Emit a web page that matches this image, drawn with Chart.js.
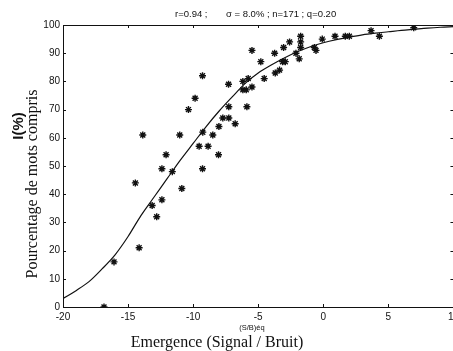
<!DOCTYPE html>
<html>
<head>
<meta charset="utf-8">
<script src="https://cdn.jsdelivr.net/npm/chart.js@4/dist/chart.umd.min.js"></script>
<style>
  html, body { margin: 0; padding: 0; background: #fff; overflow: hidden; }
  #wrap { width: 463px; height: 351px; }
</style>
</head>
<body>
<div id="wrap"><canvas id="c" width="463" height="351"></canvas></div>
<script>
// measured points: S/B (dB) and % of words understood
const snrX = [-16.85, -16.08, -14.44, -14.15, -13.87, -13.15, -12.8, -12.4, -12.4, -12.08,
  -11.6, -11.03, -10.87, -10.36, -9.85, -9.28, -9.54, -9.26, -9.28, -8.85,
  -8.49, -8.02, -8.05, -7.28, -7.26, -7.72, -7.26, -6.77, -5.87, -6.18,
  -5.77, -6.18, -5.92, -5.48, -5.48, -4.8, -4.54, -3.74, -3.69, -3.36,
  -3.13, -2.92, -3.05, -2.59, -2.1, -1.85, -1.74, -1.74, -1.74, -0.69,
  -0.56, -0.08, 0.9, 1.69, 2.0, 3.67, 4.31, 6.95];
const pctY = [0, 16, 44, 21, 61, 36, 32, 38, 49, 54,
  48, 61, 42, 70, 74, 82, 57, 62, 49, 57,
  61, 64, 54, 79, 71, 67, 67, 65, 71, 80,
  81, 77, 77, 78, 91, 87, 81, 90, 83, 84,
  87, 87, 92, 94, 90, 88, 96, 94, 92, 92,
  91, 95, 96, 96, 96, 98, 96, 99];

// fitted curve
const curveX = [-20, -19, -18, -17, -16, -15, -14, -13, -12, -11, -10, -9, -8, -7, -6, -5,
  -4, -3, -2, -1, 0, 1, 2, 3, 4, 5, 6, 7, 8, 9, 10];
const curveY = [3, 5.8, 9, 13.5, 18.5, 25, 32.5, 39, 45.5, 52, 58, 64, 69.5, 74.5, 79.3, 83,
  85.8, 88.3, 90.5, 92.3, 93.7, 94.8, 95.7, 96.5, 97.1, 97.6, 98.1, 98.5, 98.9, 99.2, 99.4];

const xTicks = [-20, -15, -10, -5, 0, 5, 10];
const yTicks = [0, 10, 20, 30, 40, 50, 60, 70, 80, 90, 100];

const INK = '#111';
const SANS = "'Liberation Sans', Arial, sans-serif";
const SERIF = "'Liberation Serif', 'Times New Roman', serif";

//frame, inward ticks and the free-floating labels
const decor = {
  id: 'decor',
  afterDraw(chart) {
    const { ctx, chartArea: a, scales } = chart;
    ctx.save();
    ctx.strokeStyle = INK;
    ctx.lineWidth = 1;
    ctx.strokeRect(a.left + 0.5, a.top + 0.5, a.right - a.left, a.bottom - a.top);
    ctx.beginPath();
    xTicks.forEach(v => {
      const x = Math.round(scales.x.getPixelForValue(v)) + 0.5;
      ctx.moveTo(x, a.bottom); ctx.lineTo(x, a.bottom - 3);
      ctx.moveTo(x, a.top); ctx.lineTo(x, a.top + 3);
    });
    yTicks.forEach(v => {
      const y = Math.round(scales.y.getPixelForValue(v)) + 0.5;
      ctx.moveTo(a.left, y); ctx.lineTo(a.left + 3, y);
      ctx.moveTo(a.right, y); ctx.lineTo(a.right - 3, y);
    });
    ctx.stroke();

    ctx.fillStyle = INK;
    ctx.textBaseline = 'middle';
    ctx.textAlign = 'left';
    ctx.font = `9.5px ${SANS}`;
    ctx.fillText('r=0.94 ;', 175, 14);
    ctx.fillText('\u03c3 = 8.0% ; n=171 ; q=0.20', 226, 14);

    ctx.textAlign = 'center';
    ctx.font = `7.5px ${SANS}`;
    ctx.fillText('(S/B)éq', 252, 328);
    ctx.font = `16px ${SERIF}`;
    ctx.fillText('Emergence (Signal / Bruit)', 217, 343);

    ctx.save();
    ctx.translate(33, 184);
    ctx.rotate(-Math.PI / 2);
    ctx.fillText('Pourcentage de mots compris', 0, 0);
    ctx.restore();

    ctx.save();
    ctx.translate(19, 126);
    ctx.rotate(-Math.PI / 2);
    ctx.font = `bold 15px ${SANS}`;
    ctx.fillText('I(%)', 0, 0);
    ctx.restore();
    ctx.restore();
  }
};

new Chart(document.getElementById('c'), {
  type: 'scatter',
  data: {
    datasets: [
      {
        label: 'mesures',
        data: snrX.map((x, i) => ({ x, y: pctY[i] })),
        pointStyle: 'star',
        pointRadius: 3.5,
        borderWidth: 1.4,
        borderColor: INK,
        backgroundColor: INK,
        order: 2
      },
      {
        type: 'line',
        label: 'modèle',
        data: curveX.map((x, i) => ({ x, y: curveY[i] })),
        borderColor: INK,
        borderWidth: 1.2,
        pointRadius: 0,
        cubicInterpolationMode: 'monotone',
        fill: false,
        order: 1
      }
    ]
  },
  options: {
    responsive: false,
    animation: false,
    layout: { padding: { top: 25, right: 8, left: 0, bottom: 0 } },
    plugins: { legend: { display: false }, tooltip: { enabled: false } },
    scales: {
      x: {
        type: 'linear', min: -20, max: 10,
        afterFit: s => { s.height = 44; },
        afterBuildTicks: s => { s.ticks = xTicks.map(v => ({ value: v })); },
        grid: { display: false, drawTicks: false, tickLength: 0 },
        border: { display: false },
        ticks: { color: INK, padding: 4, font: { family: SANS, size: 10 } }
      },
      y: {
        min: 0, max: 100,
        afterFit: s => { s.width = 63; },
        afterBuildTicks: s => { s.ticks = yTicks.map(v => ({ value: v })); },
        grid: { display: false, drawTicks: false, tickLength: 0 },
        border: { display: false },
        ticks: { color: INK, padding: 3, font: { family: SANS, size: 10 } }
      }
    }
  },
  plugins: [decor]
});
</script>
</body>
</html>
